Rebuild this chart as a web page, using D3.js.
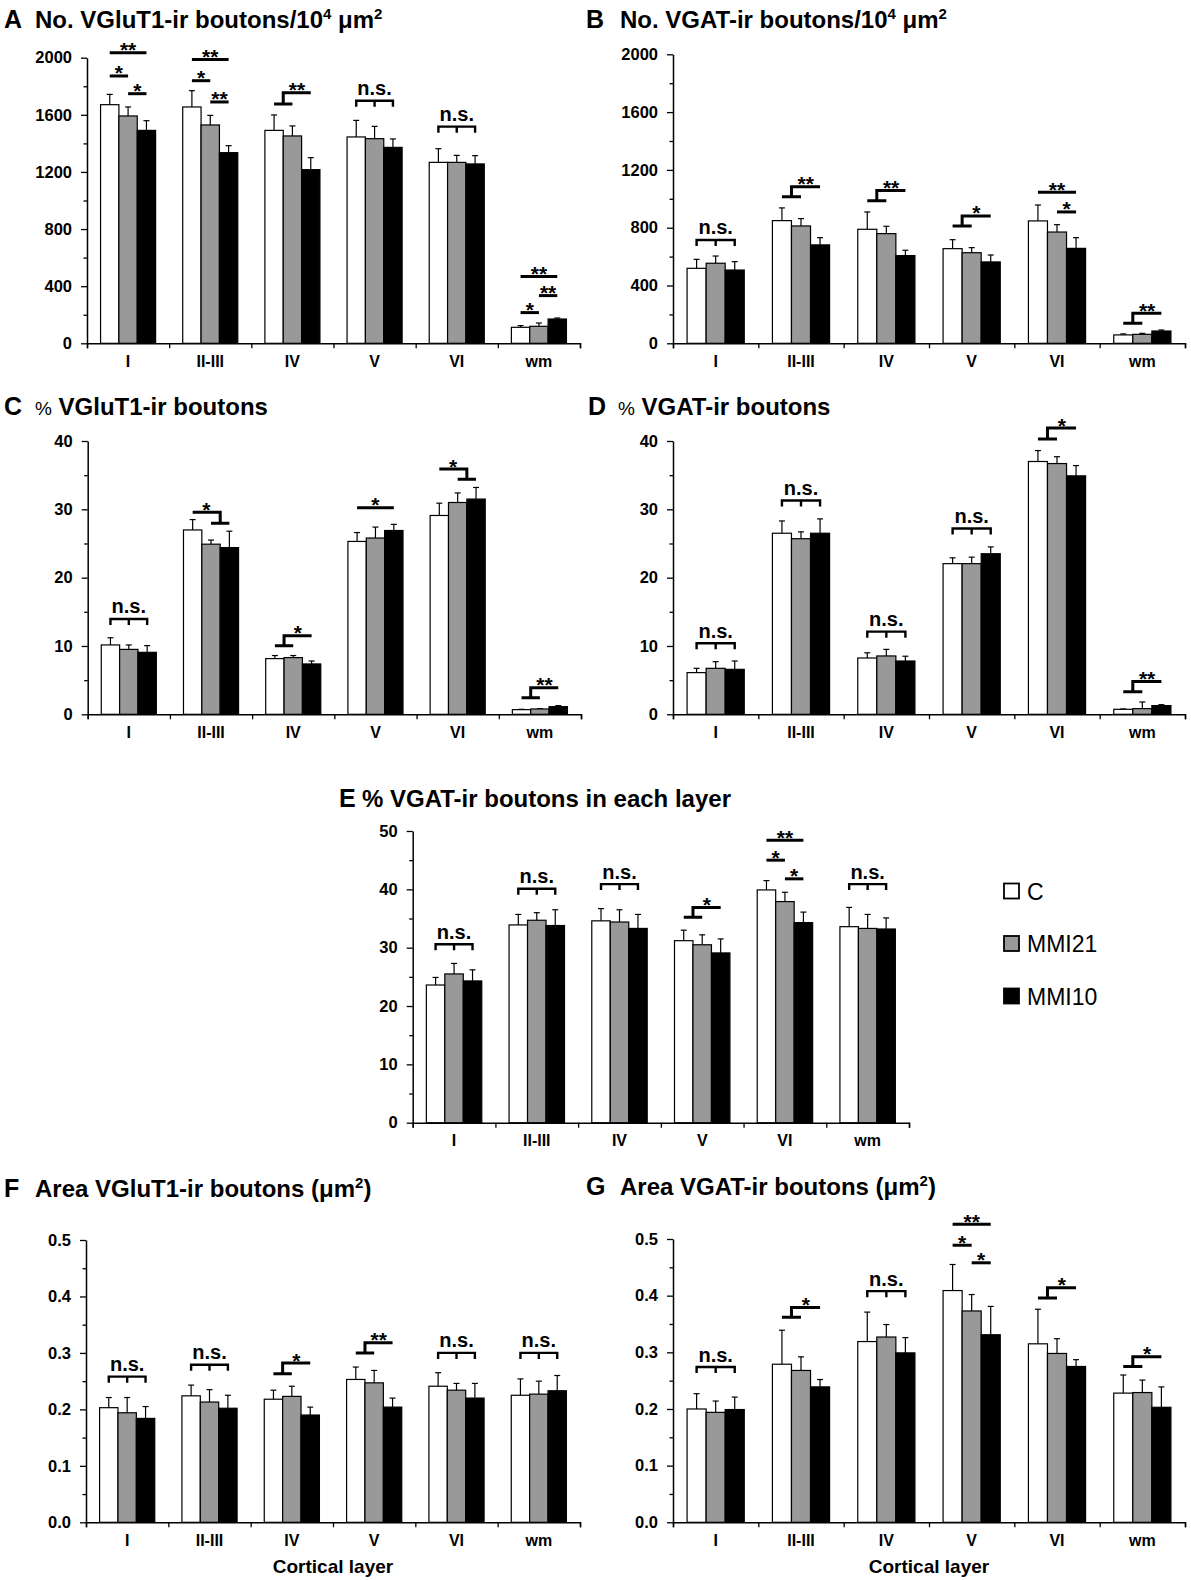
<!DOCTYPE html>
<html>
<head>
<meta charset="utf-8">
<script src="https://cdn.jsdelivr.net/npm/d3@7"></script>
<style>
  body { margin: 0; background: #fff; }
  text { font-family: "Liberation Sans", Arial, sans-serif; }
</style>
</head>
<body>
<svg id="fig" width="1191" height="1580"></svg>
<script>
// categories and groups
const layers = ["I", "II-III", "IV", "V", "VI", "wm"];
const groups = ["C", "MMI21", "MMI10"];

// A  No. VGluT1-ir boutons / 10^4 um2   (rows: C, MMI21, MMI10)
const meanA = [[1671, 1655, 1491, 1445, 1267, 112],
               [1592, 1529, 1452, 1433, 1267, 119],
               [1491, 1335, 1216, 1372, 1256, 170]];
const errA  = [[72, 114, 108, 116, 96, 12],
               [63, 67, 70, 86, 49, 23],
               [68, 49, 84, 59, 58, 7]];
// B  No. VGAT-ir boutons / 10^4 um2
const meanB = [[519, 849, 789, 655, 847, 58],
               [554, 812, 759, 627, 770, 62],
               [507, 681, 607, 563, 657, 85]];
const errB  = [[62, 88, 120, 62, 110, 7],
               [50, 51, 51, 35, 51, 7],
               [58, 50, 37, 48, 74, 7]];
// C  % VGluT1-ir boutons
const meanC = [[10.15, 26.98, 8.15, 25.3, 29.1, 0.68],
               [9.5, 24.9, 8.3, 25.8, 31.0, 0.78],
               [9.07, 24.4, 7.37, 26.9, 31.5, 1.12]];
const errC  = [[1.05, 1.52, 0.45, 1.3, 1.8, 0.05],
               [0.65, 0.6, 0.3, 1.6, 1.4, 0.05],
               [0.98, 2.4, 0.43, 0.9, 1.7, 0.15]];
// D  % VGAT-ir boutons
const meanD = [[6.1, 26.5, 8.24, 22.05, 37.0, 0.73],
               [6.73, 25.7, 8.54, 22.05, 36.7, 0.83],
               [6.58, 26.5, 7.8, 23.5, 34.9, 1.27]];
const errD  = [[0.63, 1.8, 0.76, 0.85, 1.6, 0.05],
               [0.97, 1.0, 0.96, 0.95, 1.0, 0.97],
               [1.22, 2.1, 0.7, 1.0, 1.5, 0.14]];
// E  % VGAT-ir boutons in each layer
const meanE = [[23.6, 33.9, 34.6, 31.2, 39.9, 33.6],
               [25.5, 34.7, 34.4, 30.5, 37.9, 33.3],
               [24.3, 33.8, 33.3, 29.1, 34.3, 33.2]];
const errE  = [[1.3, 1.8, 2.1, 1.8, 1.6, 3.3],
               [1.8, 1.3, 2.1, 1.7, 1.6, 2.4],
               [1.9, 2.7, 2.4, 2.4, 1.8, 1.9]];
// F  Area VGluT1-ir boutons (um2)
const meanF = [[0.203, 0.224, 0.218, 0.253, 0.241, 0.225],
               [0.194, 0.213, 0.223, 0.247, 0.234, 0.227],
               [0.184, 0.202, 0.190, 0.204, 0.220, 0.233]];
const errF  = [[0.018, 0.019, 0.016, 0.022, 0.024, 0.029],
               [0.027, 0.022, 0.018, 0.022, 0.012, 0.023],
               [0.021, 0.023, 0.014, 0.016, 0.026, 0.027]];
// G  Area VGAT-ir boutons (um2)
const meanG = [[0.200, 0.279, 0.319, 0.409, 0.315, 0.228],
               [0.194, 0.268, 0.327, 0.373, 0.298, 0.229],
               [0.199, 0.239, 0.299, 0.331, 0.275, 0.203]];
const errG  = [[0.027, 0.060, 0.052, 0.046, 0.061, 0.032],
               [0.020, 0.024, 0.022, 0.029, 0.026, 0.022],
               [0.022, 0.013, 0.027, 0.050, 0.012, 0.036]];

// significance marks: c = layer index, pair a-b / step (grp vs solo) / ns bracket; levels in data units
const sigA = [
  {c: 0, kind: "pair", a: 0, b: 2, lvl: 2035, t: "**"},
  {c: 0, kind: "pair", a: 0, b: 1, lvl: 1872, t: "*"},
  {c: 0, kind: "pair", a: 1, b: 2, lvl: 1748, t: "*"},
  {c: 1, kind: "pair", a: 0, b: 2, lvl: 1988, t: "**"},
  {c: 1, kind: "pair", a: 0, b: 1, lvl: 1839, t: "*"},
  {c: 1, kind: "pair", a: 1, b: 2, lvl: 1690, t: "**"},
  {c: 2, kind: "step", grp: [0, 1], solo: 2, lo: 1676, hi: 1755, t: "**"},
  {c: 3, kind: "ns", lvl: 1699, t: "n.s."},
  {c: 4, kind: "ns", lvl: 1517, t: "n.s."},
  {c: 5, kind: "pair", a: 0, b: 2, lvl: 468, t: "**"},
  {c: 5, kind: "pair", a: 0, b: 1, lvl: 215, t: "*"},
  {c: 5, kind: "pair", a: 1, b: 2, lvl: 334, t: "**"}
];
const sigB = [
  {c: 0, kind: "ns", lvl: 715, t: "n.s."},
  {c: 1, kind: "step", grp: [0, 1], solo: 2, lo: 1015, hi: 1084, t: "**"},
  {c: 2, kind: "step", grp: [0, 1], solo: 2, lo: 987, hi: 1057, t: "**"},
  {c: 3, kind: "step", grp: [0, 1], solo: 2, lo: 812, hi: 881, t: "*"},
  {c: 4, kind: "pair", a: 0, b: 2, lvl: 1045, t: "**"},
  {c: 4, kind: "pair", a: 1, b: 2, lvl: 909, t: "*"},
  {c: 5, kind: "step", grp: [0, 1], solo: 2, lo: 138, hi: 208, t: "**"}
];
const sigC = [
  {c: 0, kind: "ns", lvl: 13.95, t: "n.s."},
  {c: 1, kind: "step", grp: [1, 2], solo: 0, lo: 27.95, hi: 29.56, t: "*"},
  {c: 2, kind: "step", grp: [0, 1], solo: 2, lo: 10.05, hi: 11.5, t: "*"},
  {c: 3, kind: "pair", a: 0, b: 2, lvl: 30.24, t: "*"},
  {c: 4, kind: "step", grp: [1, 2], solo: 0, lo: 34.4, hi: 35.9, t: "*"},
  {c: 5, kind: "step", grp: [0, 1], solo: 2, lo: 2.44, hi: 3.9, t: "**"}
];
const sigD = [
  {c: 0, kind: "ns", lvl: 10.4, t: "n.s."},
  {c: 1, kind: "ns", lvl: 31.3, t: "n.s."},
  {c: 2, kind: "ns", lvl: 12.1, t: "n.s."},
  {c: 3, kind: "ns", lvl: 27.2, t: "n.s."},
  {c: 4, kind: "step", grp: [0, 1], solo: 2, lo: 40.3, hi: 41.9, t: "*"},
  {c: 5, kind: "step", grp: [0, 1], solo: 2, lo: 3.3, hi: 4.8, t: "**"}
];
const sigE = [
  {c: 0, kind: "ns", lvl: 30.6, t: "n.s."},
  {c: 1, kind: "ns", lvl: 40.1, t: "n.s."},
  {c: 2, kind: "ns", lvl: 40.9, t: "n.s."},
  {c: 3, kind: "step", grp: [0, 1], solo: 2, lo: 35.2, hi: 36.9, t: "*"},
  {c: 4, kind: "pair", a: 0, b: 2, lvl: 48.4, t: "**"},
  {c: 4, kind: "pair", a: 0, b: 1, lvl: 45.0, t: "*"},
  {c: 4, kind: "pair", a: 1, b: 2, lvl: 41.8, t: "*"},
  {c: 5, kind: "ns", lvl: 40.9, t: "n.s."}
];
const sigF = [
  {c: 0, kind: "ns", lvl: 0.258, t: "n.s."},
  {c: 1, kind: "ns", lvl: 0.279, t: "n.s."},
  {c: 2, kind: "step", grp: [0, 1], solo: 2, lo: 0.263, hi: 0.282, t: "*"},
  {c: 3, kind: "step", grp: [0, 1], solo: 2, lo: 0.300, hi: 0.318, t: "**"},
  {c: 4, kind: "ns", lvl: 0.300, t: "n.s."},
  {c: 5, kind: "ns", lvl: 0.300, t: "n.s."}
];
const sigG = [
  {c: 0, kind: "ns", lvl: 0.274, t: "n.s."},
  {c: 1, kind: "step", grp: [0, 1], solo: 2, lo: 0.362, hi: 0.379, t: "*"},
  {c: 2, kind: "ns", lvl: 0.408, t: "n.s."},
  {c: 3, kind: "pair", a: 0, b: 2, lvl: 0.526, t: "**"},
  {c: 3, kind: "pair", a: 0, b: 1, lvl: 0.489, t: "*"},
  {c: 3, kind: "pair", a: 1, b: 2, lvl: 0.458, t: "*"},
  {c: 4, kind: "step", grp: [0, 1], solo: 2, lo: 0.396, hi: 0.414, t: "*"},
  {c: 5, kind: "step", grp: [0, 1], solo: 2, lo: 0.275, hi: 0.292, t: "*"}
];

// axis domains
const yMaxCount = 2000, yMaxPct = 40, yMaxLayer = 50, yMaxArea = 0.5;

const FONT = '"Liberation Sans", Arial, sans-serif';
const fills = ["#ffffff", "#999999", "#000000"];

const svg = d3.select("#fig");
svg.append("rect").attr("width", 1191).attr("height", 1580).attr("fill", "#fff");

// parts: [text, superscript?, smaller?]
function title(letter, parts, lx, tx, by) {
  svg.append("text").attr("x", lx).attr("y", by)
    .attr("font-size", 25).attr("font-weight", "bold").text(letter);
  let t = svg.append("text").attr("x", tx).attr("y", by)
    .attr("font-size", 24).attr("font-weight", "bold");
  let up = false;
  parts.forEach(p => {
    let s;
    if (p[1] && !up) { s = t.append("tspan").attr("dy", -9).attr("font-size", 15); up = true; }
    else if (!p[1] && up) { s = t.append("tspan").attr("dy", 9); up = false; }
    else s = t.append("tspan");
    if (p[2]) s.attr("font-size", 19).attr("font-weight", "normal");
    s.text(p[0]);
  });
}

function drawPanel(geo, yMax, yStep, fmt, means, errs, sig, xTitle) {
  let g = svg.append("g");

  let x = d3.scaleBand().domain(layers).range([geo.x0, geo.x1])
    .paddingInner(0.33).paddingOuter(0.165);
  let xs = d3.scaleBand().domain(d3.range(groups.length)).range([0, x.bandwidth()]);
  let y = d3.scaleLinear().domain([0, yMax]).range([geo.yBot, geo.yTop]);
  let xb = d3.scaleLinear().domain([0, layers.length]).range([geo.x0, geo.x1]);

  let major = d3.range(0, yMax + yStep / 2, yStep);
  let minor = d3.range(yStep / 2, yMax, yStep);

  // minor y ticks
  g.append("g").attr("transform", `translate(${geo.x0},0)`)
    .call(d3.axisLeft(y).tickValues(minor).tickSize(3.5).tickFormat(""))
    .call(a => a.select(".domain").remove())
    .selectAll("line").attr("stroke-width", 1.3);

  // major y ticks
  g.append("g").attr("transform", `translate(${geo.x0},0)`)
    .call(d3.axisLeft(y).tickValues(major).tickSize(6).tickSizeOuter(0).tickPadding(9).tickFormat(fmt))
    .call(a => {
      a.attr("font-family", FONT).attr("font-size", 16.5).attr("font-weight", "bold");
      a.selectAll("line").attr("stroke-width", 1.3);
      a.select(".domain").attr("stroke-width", 1.5);
      a.selectAll("text").attr("fill", "#000");
    });

  // category boundary ticks
  g.append("g").attr("transform", `translate(0,${geo.yBot})`)
    .call(d3.axisBottom(xb).tickValues(d3.range(layers.length + 1)).tickSize(5).tickSizeOuter(5).tickFormat(""))
    .call(a => {
      a.selectAll("line").attr("stroke-width", 1.3);
      a.select(".domain").attr("stroke-width", 1.5);
    });

  // category labels
  g.append("g").attr("transform", `translate(0,${geo.yBot})`)
    .call(d3.axisBottom(x).tickSize(0).tickPadding(12))
    .call(a => {
      a.select(".domain").remove();
      a.attr("font-family", FONT).attr("font-size", 16).attr("font-weight", "bold");
      a.selectAll("text").attr("fill", "#000");
    });

  // bars
  let rows = [];
  means.forEach((row, k) => row.forEach((v, i) => rows.push({k: k, i: i, v: v, e: errs[k][i]})));

  let cx = (i, k) => x(layers[i]) + xs(k) + xs.bandwidth() / 2;

  g.append("g").selectAll("line").data(rows).enter().append("line")
    .attr("x1", d => cx(d.i, d.k)).attr("x2", d => cx(d.i, d.k))
    .attr("y1", d => y(d.v)).attr("y2", d => y(d.v + d.e))
    .attr("stroke", "#000").attr("stroke-width", 1.2);
  g.append("g").selectAll("line").data(rows).enter().append("line")
    .attr("x1", d => cx(d.i, d.k) - 3).attr("x2", d => cx(d.i, d.k) + 3)
    .attr("y1", d => y(d.v + d.e)).attr("y2", d => y(d.v + d.e))
    .attr("stroke", "#000").attr("stroke-width", 1.2);

  g.append("g").selectAll("rect").data(rows).enter().append("rect")
    .attr("x", d => x(layers[d.i]) + xs(d.k))
    .attr("y", d => y(d.v))
    .attr("width", xs.bandwidth())
    .attr("height", d => geo.yBot - y(d.v))
    .attr("fill", d => fills[d.k])
    .attr("stroke", "#000").attr("stroke-width", 1.2);

  // significance marks
  let sg = g.append("g").attr("fill", "none").attr("stroke", "#000");
  sig.forEach(s => {
    let tx, ty, star = true;
    if (s.kind === "pair") {
      let x1 = cx(s.c, s.a), x2 = cx(s.c, s.b);
      sg.append("line").attr("x1", x1).attr("x2", x2)
        .attr("y1", y(s.lvl)).attr("y2", y(s.lvl)).attr("stroke-width", 3);
      tx = (x1 + x2) / 2; ty = y(s.lvl) + 4.5;
    } else if (s.kind === "step") {
      let g0 = cx(s.c, s.grp[0]), g1 = cx(s.c, s.grp[1]);
      let mid = (g0 + g1) / 2, so = cx(s.c, s.solo);
      sg.append("path")
        .attr("d", `M${g0},${y(s.lo)}H${g1}M${mid},${y(s.lo)}V${y(s.hi)}H${so}`)
        .attr("stroke-width", 3);
      tx = (mid + so) / 2; ty = y(s.hi) + 4.5;
    } else {
      let x1 = cx(s.c, 0), x2 = cx(s.c, 2), xm = cx(s.c, 1);
      let yl = y(s.lvl);
      sg.append("path")
        .attr("d", `M${x1},${yl + 6}V${yl}H${x2}V${yl + 6}M${xm},${yl}V${yl + 6}`)
        .attr("stroke-width", 2.4);
      tx = xm; ty = yl - 5.5; star = false;
    }
    g.append("text").attr("x", tx).attr("y", ty)
      .attr("text-anchor", "middle").attr("font-size", star ? 21 : 20).attr("font-weight", "bold")
      .text(s.t);
  });

  if (xTitle) {
    g.append("text").attr("x", (geo.x0 + geo.x1) / 2).attr("y", geo.yBot + 51)
      .attr("text-anchor", "middle").attr("font-size", 19).attr("font-weight", "bold")
      .text(xTitle);
  }
}

const fmtInt = d3.format("d"), fmtArea = d3.format(".1f");

title("A", [["No. VGluT1-ir boutons/10", 0], ["4", 1], [" μm", 0], ["2", 1]], 4, 35, 28);
drawPanel({x0: 87, x1: 580, yTop: 57.7, yBot: 343.3}, yMaxCount, 400, fmtInt, meanA, errA, sigA);

title("B", [["No. VGAT-ir boutons/10", 0], ["4", 1], [" μm", 0], ["2", 1]], 586, 620, 28);
drawPanel({x0: 673, x1: 1185, yTop: 54.3, yBot: 343.3}, yMaxCount, 400, fmtInt, meanB, errB, sigB);

title("C", [["%", 0, 1], [" VGluT1-ir boutons", 0]], 4, 35, 415);
drawPanel({x0: 87.7, x1: 581, yTop: 441, yBot: 714.3}, yMaxPct, 10, fmtInt, meanC, errC, sigC);

title("D", [["%", 0, 1], [" VGAT-ir boutons", 0]], 588, 618, 415);
drawPanel({x0: 673, x1: 1185, yTop: 441, yBot: 714.3}, yMaxPct, 10, fmtInt, meanD, errD, sigD);

title("E", [["% VGAT-ir boutons in each layer", 0]], 339, 362, 807);
drawPanel({x0: 412.7, x1: 909, yTop: 831, yBot: 1122.7}, yMaxLayer, 10, fmtInt, meanE, errE, sigE);

title("F", [["Area VGluT1-ir boutons (μm", 0], ["2", 1], [")", 0]], 4, 35, 1197);
drawPanel({x0: 86, x1: 580, yTop: 1240, yBot: 1522.3}, yMaxArea, 0.1, fmtArea, meanF, errF, sigF, "Cortical layer");

title("G", [["Area VGAT-ir boutons (μm", 0], ["2", 1], [")", 0]], 586, 620, 1195);
drawPanel({x0: 673, x1: 1185, yTop: 1239, yBot: 1522.3}, yMaxArea, 0.1, fmtArea, meanG, errG, sigG, "Cortical layer");

// legend
const leg = svg.append("g");
const legY = d3.scalePoint().domain(groups).range([891, 996]);
leg.selectAll("rect").data(groups).enter().append("rect")
  .attr("x", 1004).attr("y", d => legY(d) - 7.5)
  .attr("width", 15).attr("height", 15)
  .attr("fill", (d, i) => fills[i]).attr("stroke", "#000").attr("stroke-width", 1.8);
leg.selectAll("text").data(groups).enter().append("text")
  .attr("x", 1027).attr("y", d => legY(d) + 8.5)
  .attr("font-size", 23).text(d => d);
</script>
</body>
</html>
